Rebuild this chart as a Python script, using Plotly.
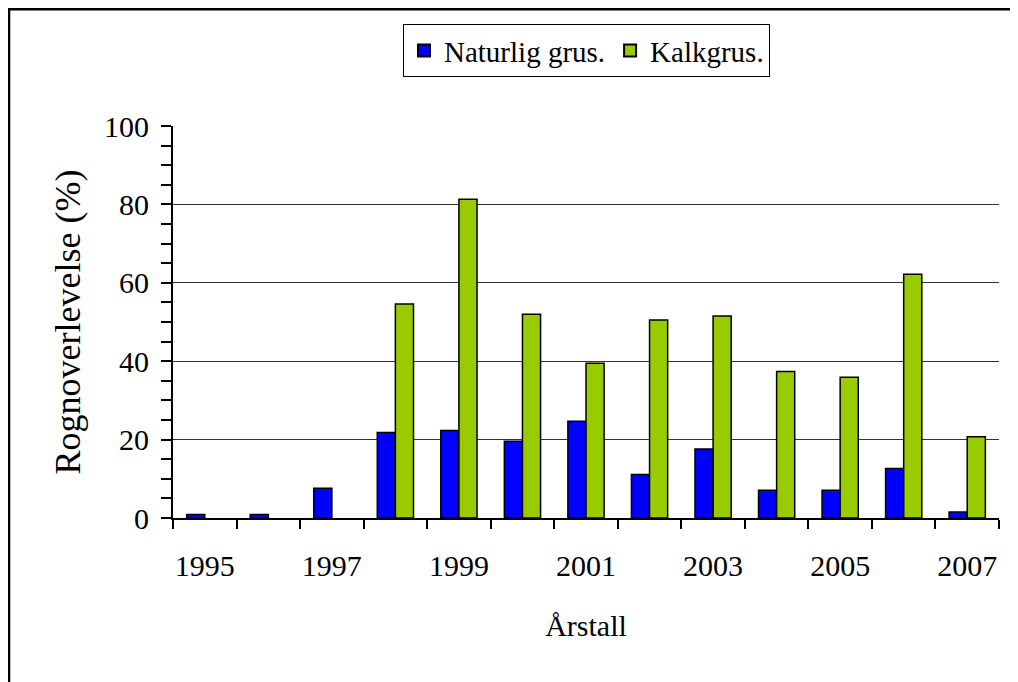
import plotly.graph_objects as go

years = [1995, 1996, 1997, 1998, 1999, 2000, 2001, 2002, 2003, 2004, 2005, 2006, 2007]
naturlig = [0.9, 0.9, 7.6, 21.8, 22.3, 19.6, 24.7, 11.1, 17.6, 7.1, 7.1, 12.6, 1.5]
kalk = [None, None, None, 54.6, 81.3, 52.0, 39.5, 50.5, 51.5, 37.4, 35.9, 62.2, 20.7]
tick_labels = ["1995", "1997", "1999", "2001", "2003", "2005", "2007"]
tick_years = [1995, 1997, 1999, 2001, 2003, 2005, 2007]

blue = "#0000FF"
green = "#99CC00"
font = "Liberation Serif"

fig = go.Figure()
fig.add_trace(go.Bar(x=years, y=naturlig, name="Naturlig grus.", marker=dict(color=blue, line=dict(color="black", width=1.5)), showlegend=False))
fig.add_trace(go.Bar(x=years, y=kalk, name="Kalkgrus.", marker=dict(color=green, line=dict(color="black", width=1.5)), showlegend=False))
# legend entries
fig.add_trace(go.Scatter(x=[None], y=[None], mode="markers", name="Naturlig grus.",
                         marker=dict(symbol="square", size=17, color=blue, line=dict(color="black", width=1.5))))
fig.add_trace(go.Scatter(x=[None], y=[None], mode="markers", name="Kalkgrus.",
                         marker=dict(symbol="square", size=17, color=green, line=dict(color="black", width=1.5))))

fig.update_layout(
    width=1010, height=674,
    margin=dict(l=165, r=19, t=118, b=163.5),
    paper_bgcolor="white", plot_bgcolor="white",
    barmode="group", bargap=0.43, bargroupgap=0,
    font=dict(family=font, size=30, color="black"),
    legend=dict(orientation="h", x=0.5006, xanchor="center", y=1.26, yanchor="top",
                bordercolor="black", borderwidth=1, font=dict(size=29, family=font),
                itemsizing="constant"),
    xaxis=dict(range=[1994.5, 2007.5], tickmode="array", tickvals=tick_years, ticktext=tick_labels,
               ticks="", showgrid=False, showline=True, linecolor="black", linewidth=2,
               ticklabelstandoff=20,
               minor=dict(ticks="outside", tick0=1994.5, dtick=1, ticklen=9, tickwidth=2, tickcolor="black", showgrid=False),
               title=dict(text="Årstall", font=dict(size=30, family=font), standoff=34),
               zeroline=False),
    yaxis=dict(range=[0, 100], dtick=20, ticks="outside", ticklen=10, tickwidth=2, tickcolor="black",
               showline=True, linecolor="black", linewidth=2,
               showgrid=True, gridcolor="#333333", gridwidth=1.2,
               minor=dict(ticks="outside", dtick=5, ticklen=10, tickwidth=2, tickcolor="black", showgrid=False),
               ticklabelstandoff=6,
               title=dict(text="Rognoverlevelse (%)", font=dict(size=36, family=font), standoff=12),
               zeroline=False),
    shapes=[dict(type="rect", xref="paper", yref="paper", x0=-0.1985, x1=1.05, y0=-0.47, y1=1.298,
                 line=dict(color="black", width=2.5), fillcolor="rgba(0,0,0,0)")],
)

fig.write_html("out.html")
